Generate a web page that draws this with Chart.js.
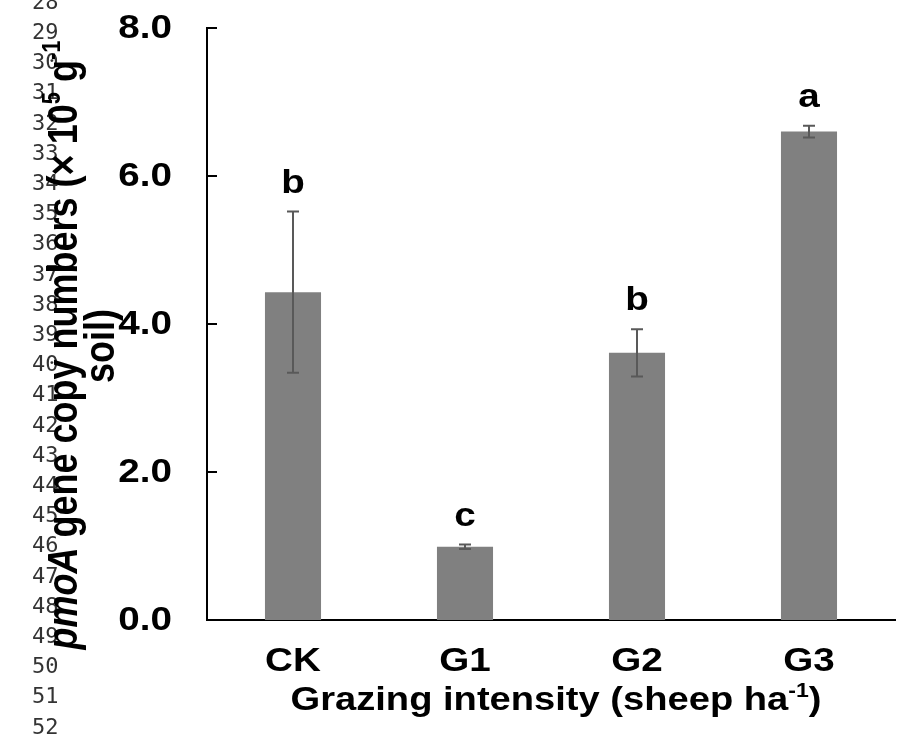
<!DOCTYPE html>
<html>
<head>
<meta charset="utf-8">
<script src="https://cdn.jsdelivr.net/npm/chart.js@4"></script>
<style>
  html, body { margin: 0; padding: 0; background: #fff; }
  canvas { display: block; }
</style>
</head>
<body>
<canvas id="chart" width="904" height="736"></canvas>
<script>
// grazing intensity vs pmoA abundance
const categories = ['CK', 'G1', 'G2', 'G3'];
const copyNumbers = [4.43, 0.99, 3.61, 6.60];
const stdErrors = [1.09, 0.03, 0.32, 0.08];
const sigLetters = ['b', 'c', 'b', 'a'];
const lineNumbers = ['28', '29', '30', '31', '32', '33', '34', '35', '36', '37', '38', '39', '40',
    '41', '42', '43', '44', '45', '46', '47', '48', '49', '50', '51', '52'];

const FONT = '"Liberation Sans", Arial, sans-serif';
const SX = 1.17; // the figure text is a bit wider than plain Arial
const LABEL_FONT = 'bold 33px ' + FONT;

// text drawn slightly stretched sideways
function wideText(ctx, text, x, y, font, align, sx) {
    ctx.save();
    ctx.translate(x, y);
    ctx.scale(sx, 1);
    ctx.font = font;
    ctx.textAlign = align;
    ctx.fillText(text, 0, 0);
    ctx.restore();
}

// runs of text [{text, font, dy}] centred on x, with a scale along and across the line
function drawRuns(ctx, runs, x, y, sx, sy) {
    ctx.save();
    ctx.translate(x, y);
    ctx.scale(sx, sy);
    ctx.textAlign = 'left';
    let total = 0;
    runs.forEach((r) => { ctx.font = r.font; total += ctx.measureText(r.text).width; });
    let cx = -total / 2;
    runs.forEach((r) => {
        ctx.font = r.font;
        ctx.fillText(r.text, cx, r.dy || 0);
        cx += ctx.measureText(r.text).width;
    });
    ctx.restore();
}

const extras = {
    id: 'extras',
    afterDatasetsDraw(chart) {
        const {ctx, scales: {x, y}} = chart;
        const meta = chart.getDatasetMeta(0);
        ctx.save();

        // error bars
        ctx.strokeStyle = '#595959';
        ctx.lineWidth = 2;
        meta.data.forEach((bar, i) => {
            const top = y.getPixelForValue(copyNumbers[i] + stdErrors[i]);
            const bot = y.getPixelForValue(copyNumbers[i] - stdErrors[i]);
            ctx.beginPath();
            ctx.moveTo(bar.x, top); ctx.lineTo(bar.x, bot);
            ctx.moveTo(bar.x - 6, top); ctx.lineTo(bar.x + 6, top);
            ctx.moveTo(bar.x - 6, bot); ctx.lineTo(bar.x + 6, bot);
            ctx.stroke();
        });

        // significance letters
        ctx.fillStyle = '#000';
        ctx.textBaseline = 'alphabetic';
        meta.data.forEach((bar, i) => {
            const top = y.getPixelForValue(copyNumbers[i] + stdErrors[i]);
            wideText(ctx, sigLetters[i], bar.x, top - 19, LABEL_FONT, 'center', SX);
        });

        // inward tick marks on the y axis
        ctx.strokeStyle = '#000';
        ctx.lineWidth = 2;
        y.ticks.forEach((t) => {
            const py = y.getPixelForValue(t.value);
            ctx.beginPath();
            ctx.moveTo(x.left, py);
            ctx.lineTo(x.left + 10, py);
            ctx.stroke();
        });

        // tick labels, from the scales' own ticks
        ctx.textBaseline = 'middle';
        y.ticks.forEach((t) => {
            wideText(ctx, t.label, x.left - 35, y.getPixelForValue(t.value) + 1, LABEL_FONT, 'right', SX);
        });
        x.ticks.forEach((t, i) => {
            wideText(ctx, x.getLabelForValue(t.value), x.getPixelForTick(i), 662, LABEL_FONT, 'center', SX);
        });

        // line numbers from the manuscript margin
        ctx.fillStyle = '#333';
        ctx.textAlign = 'left';
        ctx.font = '22px "DejaVu Sans Mono", monospace';
        lineNumbers.forEach((n, i) => {
            ctx.fillText(n, 32, 3 + i * 30.2);
        });

        // x axis title
        ctx.fillStyle = '#000';
        ctx.textBaseline = 'alphabetic';
        const tf = 'bold 33px ' + FONT;
        const sf = 'bold 20px ' + FONT;
        drawRuns(ctx, [
            {text: 'Grazing intensity (sheep ha', font: tf},
            {text: '-1', font: sf, dy: -13},
            {text: ')', font: tf}
        ], 556, 710, 1.155, 1);

        // y axis title, two lines rotated
        ctx.save();
        ctx.rotate(-Math.PI / 2);
        const yf = 'bold 36px ' + FONT;
        const ysf = 'bold 22px ' + FONT;
        drawRuns(ctx, [
            {text: 'pmoA', font: 'italic ' + yf},
            {text: ' gene copy numbers (\u00d7 10', font: yf},
            {text: '5', font: ysf, dy: -14},
            {text: ' g', font: yf},
            {text: '-1', font: ysf, dy: -14}
        ], -345, 77, 1, 1.2);
        drawRuns(ctx, [{text: 'soil)', font: yf}], -346, 114, 1, 1.2);
        ctx.restore();

        ctx.restore();
    }
};

new Chart(document.getElementById('chart'), {
    type: 'bar',
    data: {
        labels: categories,
        datasets: [{
            data: copyNumbers,
            backgroundColor: '#808080',
            borderWidth: 0,
            barPercentage: 0.326,
            categoryPercentage: 1.0
        }]
    },
    options: {
        responsive: false,
        animation: false,
        events: [],
        layout: {padding: {left: 0, right: 9, top: 28, bottom: 0}},
        plugins: {legend: {display: false}, tooltip: {enabled: false}},
        scales: {
            x: {
                grid: {display: false, drawTicks: false},
                border: {display: true, color: '#000', width: 2},
                ticks: {display: false},
                afterFit: (scale) => { scale.height = 116; }
            },
            y: {
                min: 0, max: 8,
                grid: {display: false, drawTicks: false},
                border: {display: true, color: '#000', width: 2},
                ticks: {display: false, stepSize: 2, callback: (v) => v.toFixed(1)},
                afterFit: (scale) => { scale.width = 207; }
            }
        }
    },
    plugins: [extras]
});
</script>
</body>
</html>
